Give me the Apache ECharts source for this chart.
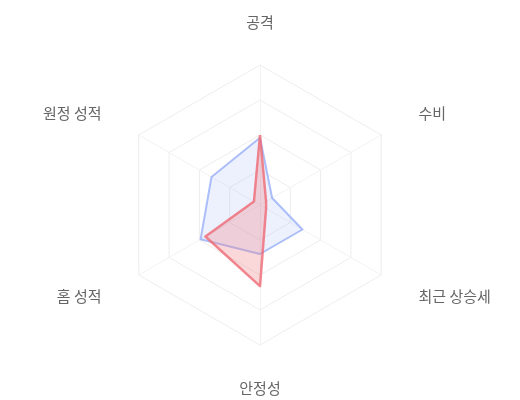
<!DOCTYPE html>
<html>
<head>
<meta charset="utf-8">
<script src="https://cdn.jsdelivr.net/npm/echarts@6/dist/echarts.min.js"></script>
<style>
  html, body { margin: 0; padding: 0; background: #fff; }
  #main { width: 520px; height: 400px; }
</style>
</head>
<body>
<div id="main"></div>
<script>
// 레이더 지표 (ECharts는 반시계 방향으로 배치)
var indicatorNames = ['공격', '원정 성적', '홈 성적', '안정성', '최근 상승세', '수비'];
var indicatorMax = [100, 100, 100, 100, 100, 100];

// 두 팀 값
var blueValues = [48, 40, 49, 35, 35, 10];
var redValues = [50, 5, 45, 58, 5, 5];

var dom = document.getElementById('main');
var myChart = echarts.init(dom);

var indicators = indicatorNames.map(function (name, i) {
  return { name: name, max: indicatorMax[i] };
});

var option = {
  animation: false,
  radar: {
    center: ['50%', '51.25%'],
    radius: '70%',
    splitNumber: 4,
    indicator: indicators,
    nameGap: 43,
    axisName: {
      color: '#666',
      fontSize: 15,
      verticalAlign: 'middle',
      fontFamily: 'Noto Sans CJK KR'
    },
    axisLine: { lineStyle: { color: '#f2f2f2' } },
    splitLine: { lineStyle: { color: '#ededed' } },
    splitArea: { show: false }
  },
  series: [{
    type: 'radar',
    symbol: 'none',
    data: [
      {
        value: blueValues,
        lineStyle: { color: '#8aa4f6', width: 2, opacity: 0.7 },
        areaStyle: { color: '#9cb2f8', opacity: 0.18 }
      },
      {
        value: redValues,
        lineStyle: { color: '#ee6672', width: 2.5, opacity: 0.8 },
        areaStyle: { color: '#ef7d86', opacity: 0.3 }
      }
    ]
  }]
};

myChart.setOption(option);
window.addEventListener('resize', function () { myChart.resize(); });
</script>
</body>
</html>
